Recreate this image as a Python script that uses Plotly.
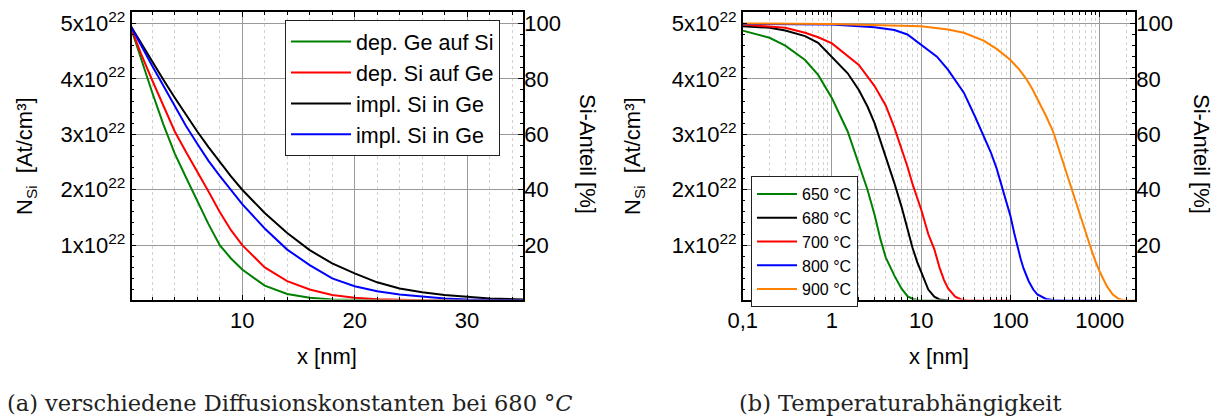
import plotly.graph_objects as go

# ---------------- data (N_Si in units of 1e22 At/cm^3) ----------------
LEFT_X = [0, 1, 2, 3, 4, 5, 6, 7, 8, 9, 10, 12, 14, 16, 18, 20, 22, 24, 26, 28, 30, 32, 35]
DEP_GE_AUF_SI = [4.98, 4.35, 3.75, 3.17, 2.65, 2.22, 1.80, 1.38, 1.00, 0.76, 0.56, 0.27, 0.12, 0.05, 0.02, 0.01, 0.005, 0, 0, 0, 0, 0, 0]
DEP_SI_AUF_GE = [4.98, 4.45, 3.97, 3.50, 3.05, 2.68, 2.33, 1.97, 1.60, 1.27, 1.00, 0.60, 0.35, 0.20, 0.10, 0.05, 0.025, 0.012, 0.006, 0.003, 0, 0, 0]
IMPL_SI_IN_GE_BLACK = [4.98, 4.64, 4.30, 3.98, 3.66, 3.35, 3.05, 2.77, 2.50, 2.24, 2.00, 1.58, 1.22, 0.91, 0.67, 0.49, 0.33, 0.22, 0.15, 0.10, 0.07, 0.04, 0.02]
IMPL_SI_IN_GE_BLUE = [4.98, 4.60, 4.23, 3.87, 3.50, 3.15, 2.83, 2.52, 2.25, 2.00, 1.74, 1.30, 0.92, 0.64, 0.40, 0.26, 0.17, 0.11, 0.07, 0.04, 0.02, 0.01, 0.005]
LEFT_NAMES = ["dep. Ge auf Si", "dep. Si auf Ge", "impl. Si in Ge", "impl. Si in Ge"]

T650_X = [0.1, 0.2, 0.3, 0.5, 0.7, 1, 1.5, 2, 2.5, 3, 3.5, 4, 5, 6, 7, 8, 9, 10, 20]
T650_Y = [4.87, 4.74, 4.60, 4.34, 4.07, 3.65, 3.05, 2.45, 2.00, 1.55, 1.10, 0.78, 0.45, 0.22, 0.08, 0.03, 0.01, 0, 0]
T680_X = [0.1, 0.2, 0.3, 0.5, 0.7, 1, 1.5, 2, 2.5, 3, 4, 5, 6, 7, 8, 9, 10, 12, 14, 16, 18, 20]
T680_Y = [4.95, 4.92, 4.87, 4.77, 4.65, 4.39, 4.10, 3.80, 3.50, 3.20, 2.60, 2.12, 1.70, 1.28, 0.95, 0.70, 0.52, 0.20, 0.07, 0.02, 0.01, 0]
T700_X = [0.1, 0.2, 0.3, 0.5, 0.7, 1, 2, 3, 4, 5, 6, 7, 8, 9, 10, 12, 14, 16, 18, 20, 24, 28, 32, 40, 100]
T700_Y = [4.98, 4.95, 4.92, 4.83, 4.75, 4.64, 4.25, 3.87, 3.52, 3.12, 2.75, 2.42, 2.10, 1.85, 1.64, 1.20, 0.93, 0.60, 0.37, 0.22, 0.07, 0.02, 0.005, 0, 0]
T800_X = [0.1, 1, 3, 5, 7, 10, 15, 20, 30, 40, 50, 60, 70, 80, 90, 100, 110, 120, 130, 140, 160, 180, 200, 250, 300, 400, 1000]
T800_Y = [4.99, 4.98, 4.93, 4.88, 4.80, 4.62, 4.40, 4.16, 3.75, 3.32, 2.98, 2.68, 2.38, 2.07, 1.78, 1.52, 1.22, 0.95, 0.75, 0.58, 0.35, 0.20, 0.11, 0.03, 0.01, 0, 0]
T900_X = [0.1, 1, 10, 20, 30, 40, 50, 70, 100, 125, 150, 175, 200, 250, 300, 400, 500, 600, 700, 800, 900, 1000, 1200, 1400, 1600, 1800, 2000, 2500]
T900_Y = [5.00, 4.99, 4.95, 4.89, 4.83, 4.75, 4.69, 4.54, 4.34, 4.17, 4.00, 3.82, 3.64, 3.33, 3.05, 2.42, 1.95, 1.55, 1.20, 0.93, 0.70, 0.52, 0.26, 0.11, 0.04, 0.01, 0, 0]
RIGHT_NAMES = ["650 °C", "680 °C", "700 °C", "800 °C", "900 °C"]

N_MAX = 5.0  # 5x10^22 At/cm^3 corresponds to 100 % Si
Y_TICKS = [1, 2, 3, 4, 5]
Y_TICKTEXT = ["%dx10<sup>22</sup>" % v for v in Y_TICKS]
PCT_TICKS = [20, 40, 60, 80, 100]
LOG_TICKS = [0.1, 1, 10, 100, 1000]
LOG_TICKTEXT = ["0,1", "1", "10", "100", "1000"]

CAPTION_A = "(a) verschiedene Diffusionskonstanten bei 680 °<i>C</i>"
CAPTION_B = "(b) Temperaturabhängigkeit"

# ---------------- style ----------------
W, H = 1221, 419
FONT = "Liberation Sans, Arial, sans-serif"
SERIF = "DejaVu Serif, Liberation Serif, serif"
GREEN, RED, BLACK, BLUE, ORANGE = "#008000", "#ff0000", "#000000", "#0000ff", "#ff8000"
GRID = "#9a9a9a"
MINOR_GRID = "#d2d2d2"


def pxx(x):
    return x / W


def pxy(y):
    return (H - y) / H


Y_DOMAIN = [pxy(299.5), pxy(12.3)]
LEFT_DOMAIN = [pxx(131.5), pxx(523.3)]
RIGHT_DOMAIN = [pxx(742.7), pxx(1135.3)]
Y_RANGE = [0.02, 5.2]
PCT_RANGE = [Y_RANGE[0] * 100 / N_MAX, Y_RANGE[1] * 100 / N_MAX]

fig = go.Figure()

for ys, name, col in zip([DEP_GE_AUF_SI, DEP_SI_AUF_GE, IMPL_SI_IN_GE_BLACK, IMPL_SI_IN_GE_BLUE],
                         LEFT_NAMES, [GREEN, RED, BLACK, BLUE]):
    fig.add_trace(go.Scatter(x=LEFT_X, y=ys, name=name, mode="lines",
                             line=dict(color=col, width=2), xaxis="x", yaxis="y",
                             legend="legend"))
# same profile in percent on the right-hand axis (invisible, only carries the axis)
fig.add_trace(go.Scatter(x=LEFT_X, y=[v * 100 / N_MAX for v in IMPL_SI_IN_GE_BLACK], mode="lines",
                         line=dict(color="rgba(0,0,0,0)", width=0), xaxis="x", yaxis="y2",
                         showlegend=False, hoverinfo="skip"))

for xs, ys, name, col in zip([T650_X, T680_X, T700_X, T800_X, T900_X],
                             [T650_Y, T680_Y, T700_Y, T800_Y, T900_Y],
                             RIGHT_NAMES, [GREEN, BLACK, RED, BLUE, ORANGE]):
    fig.add_trace(go.Scatter(x=xs, y=ys, name=name, mode="lines",
                             line=dict(color=col, width=2), xaxis="x2", yaxis="y3",
                             legend="legend2"))
fig.add_trace(go.Scatter(x=T900_X, y=[v * 100 / N_MAX for v in T900_Y], mode="lines",
                         line=dict(color="rgba(0,0,0,0)", width=0), xaxis="x2", yaxis="y4",
                         showlegend=False, hoverinfo="skip"))

tickfont = dict(family=FONT, size=22, color="black")

common_y = dict(range=Y_RANGE, domain=Y_DOMAIN, tickvals=Y_TICKS, ticktext=Y_TICKTEXT,
                tickfont=tickfont, ticks="inside", ticklen=5, tickcolor="black", tickwidth=1,
                showline=True, linecolor="black", linewidth=1.5, mirror=True, automargin=False,
                showgrid=True, gridcolor=GRID, gridwidth=1, zeroline=False,
                minor=dict(dtick=0.2, tick0=0, ticks="inside", ticklen=3, tickcolor="black", showgrid=False))
common_pct = dict(range=PCT_RANGE, side="right", tickvals=PCT_TICKS, tickfont=tickfont,
                  ticks="inside", ticklen=5, tickcolor="black", tickwidth=1, showline=False, showgrid=False,
                  zeroline=False, automargin=False,
                  minor=dict(dtick=4, tick0=0, ticks="inside", ticklen=3, tickcolor="black", showgrid=False))

log_minor = [m * 10 ** e for e in range(-1, 4) for m in range(2, 10) if m * 10 ** e <= 2500]

fig.update_layout(
    template="none",
    width=W, height=H, autosize=False,
    margin=dict(l=0, r=0, t=0, b=0, pad=0),
    paper_bgcolor="white", plot_bgcolor="white",
    font=dict(family=FONT, size=22, color="black"),
    xaxis=dict(domain=LEFT_DOMAIN, anchor="y", range=[0.15, 35], tickvals=[10, 20, 30],
               tickfont=tickfont, ticks="inside", ticklen=5, tickcolor="black", tickwidth=1,
               showline=True, linecolor="black", linewidth=1.5, mirror="ticks", automargin=False,
               showgrid=True, gridcolor=GRID, gridwidth=1, zeroline=False,
               minor=dict(dtick=2, tick0=0, ticks="inside", ticklen=3, tickcolor="black",
                          showgrid=True, gridcolor=MINOR_GRID, griddash="dot", gridwidth=1)),
    yaxis=dict(anchor="x", **common_y),
    yaxis2=dict(anchor="x", overlaying="y", **common_pct),
    xaxis2=dict(domain=RIGHT_DOMAIN, anchor="y3", type="log", range=[-1, 3.398],
                tickvals=LOG_TICKS, ticktext=LOG_TICKTEXT,
                tickfont=tickfont, ticks="inside", ticklen=5, tickcolor="black", tickwidth=1,
                showline=True, linecolor="black", linewidth=1.5, mirror="ticks", automargin=False,
                showgrid=True, gridcolor=GRID, gridwidth=1, zeroline=False,
                minor=dict(tickvals=log_minor, ticks="inside", ticklen=3, tickcolor="black",
                           showgrid=True, gridcolor=MINOR_GRID, griddash="dot", gridwidth=1)),
    yaxis3=dict(anchor="x2", **common_y),
    yaxis4=dict(anchor="x2", overlaying="y3", **common_pct),
    legend=dict(x=pxx(285), y=pxy(20), xanchor="left", yanchor="top",
                bgcolor="white", bordercolor="#222", borderwidth=1, itemwidth=60,
                entrywidth=152, entrywidthmode="pixels",
                font=dict(family=FONT, size=21.5, color="black"), tracegroupgap=0),
    legend2=dict(x=pxx(751), y=pxy(176), xanchor="left", yanchor="top",
                 bgcolor="white", bordercolor="#222", borderwidth=1, itemwidth=40,
                 font=dict(family=FONT, size=16, color="black"), tracegroupgap=0),
    showlegend=True,
    hovermode=False,
)

ann = []
title_font = dict(family=FONT, size=22, color="black")
for xc, xr in [(26, 588), (634, 1202)]:
    ann.append(dict(x=pxx(xc), y=pxy(156), xref="paper", yref="paper", text="N<sub>Si</sub>  [At/cm³]",
                    textangle=-90, showarrow=False, font=title_font, xanchor="center", yanchor="middle"))
    ann.append(dict(x=pxx(xr), y=pxy(154), xref="paper", yref="paper", text="Si-Anteil [%]",
                    textangle=90, showarrow=False, font=title_font, xanchor="center", yanchor="middle"))
for xc in [327, 939]:
    ann.append(dict(x=pxx(xc), y=pxy(356), xref="paper", yref="paper", text="x [nm]",
                    showarrow=False, font=title_font, xanchor="center", yanchor="middle"))
ann.append(dict(x=pxx(5), y=pxy(403), xref="paper", yref="paper", text=CAPTION_A, showarrow=False,
                font=dict(family=SERIF, size=22.5, color="#222"), xanchor="left", yanchor="middle"))
ann.append(dict(x=pxx(737), y=pxy(403), xref="paper", yref="paper", text=CAPTION_B, showarrow=False,
                font=dict(family=SERIF, size=22.5, color="#222"), xanchor="left", yanchor="middle"))
fig.update_layout(annotations=ann)

fig.write_html("out.html")
